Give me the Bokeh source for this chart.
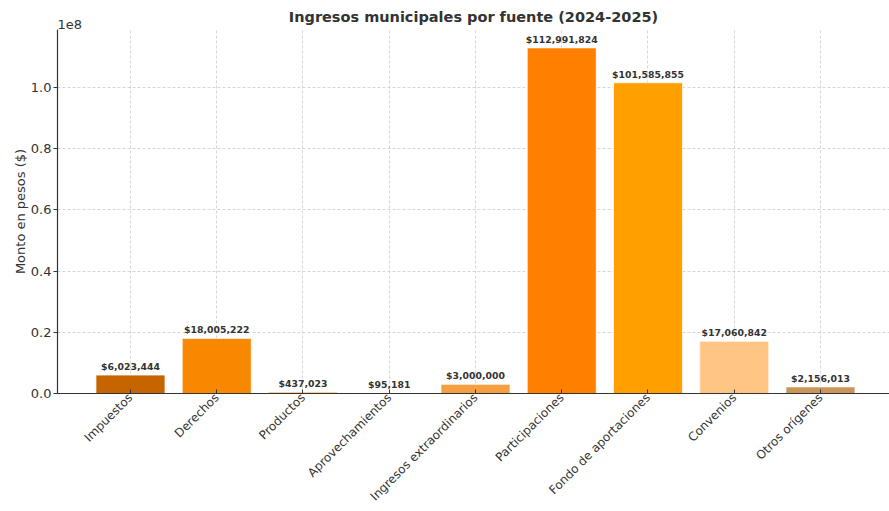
from bokeh.plotting import figure
from bokeh.models import FixedTicker, ColumnDataSource, Range1d, Title
from bokeh.embed import file_html
from bokeh.resources import INLINE
from bokeh.core.properties import value

categories = ["Impuestos", "Derechos", "Productos", "Aprovechamientos",
              "Ingresos extraordinarios", "Participaciones",
              "Fondo de aportaciones", "Convenios", "Otros orígenes"]
amounts = [6023444, 18005222, 437023, 95181, 3000000,
           112991824, 101585855, 17060842, 2156013]
colors = ["#c66400", "#f78800", "#f58a00", "#f29020", "#f4a040",
          "#ff8000", "#ff9f00", "#ffc585", "#c8955a"]
y_ticks = [0, 2e7, 4e7, 6e7, 8e7, 1e8]
y_tick_labels = ["0.0", "0.2", "0.4", "0.6", "0.8", "1.0"]
offset_text = "1e8"

FONT = "DejaVu Sans"
TXT = "#333333"

xs = list(range(len(categories)))
src = ColumnDataSource(dict(
    x=xs, top=amounts, color=colors,
    label=[f"${v:,.0f}" for v in amounts],
))

p = figure(width=889, height=511, output_backend="svg", toolbar_location=None,
           x_range=Range1d(-0.846, 8.80), y_range=Range1d(0, 1.19e8),
           min_border_left=57, min_border_right=0, min_border_top=29,
           min_border_bottom=118)

p.title.text = "Ingresos municipales por fuente (2024-2025)"
p.title.align = "center"
p.title.text_font = FONT
p.title.text_font_size = "14.5px"
p.title.text_font_style = "bold"
p.title.text_color = TXT
p.title.offset = 0
p.title.standoff = -14

p.add_layout(Title(text=offset_text, align="left", text_font=FONT,
                   text_font_size="13px", text_font_style="normal",
                   text_color=TXT, standoff=1, offset=0), "above")

p.vbar(x="x", top="top", width=0.8, source=src, fill_color="color",
       line_color="white", line_width=1, line_alpha=0.7)

p.text(x="x", y="top", text="label", source=src, text_align="center",
       text_baseline="bottom", y_offset=-3, text_font=value(FONT),
       text_font_size="9.3px", text_font_style="bold", text_color=TXT)

p.outline_line_color = None

for g in (p.xgrid, p.ygrid):
    g.grid_line_color = "#cccccc"
    g.grid_line_dash = "3 2"
    g.grid_line_width = 0.8

p.xaxis.ticker = FixedTicker(ticks=xs)
p.xaxis.major_label_overrides = {i: c for i, c in zip(xs, categories)}
p.xaxis.major_label_orientation = 0.785398
p.xaxis.major_label_text_font_size = "12px"
p.xaxis.major_label_standoff = 2
p.xaxis.major_tick_in = 4
p.xaxis.major_tick_out = 0
p.xaxis.minor_tick_line_color = None

p.yaxis.ticker = FixedTicker(ticks=y_ticks)
p.yaxis.major_label_overrides = {t: l for t, l in zip(y_ticks, y_tick_labels)}
p.yaxis.major_label_text_font_size = "13px"
p.yaxis.major_label_standoff = 2
p.yaxis.major_tick_in = 0
p.yaxis.major_tick_out = 4
p.yaxis.minor_tick_line_color = None
p.yaxis.axis_label = "Monto en pesos ($)"
p.yaxis.axis_label_text_font_style = "normal"
p.yaxis.axis_label_text_font_size = "13px"
p.yaxis.axis_label_text_font = FONT
p.yaxis.axis_label_text_color = TXT
p.yaxis.axis_label_standoff = 0

for ax in (p.xaxis, p.yaxis):
    ax.major_label_text_font = FONT
    ax.major_label_text_color = TXT
    ax.axis_line_color = TXT
    ax.axis_line_width = 1.2
    ax.major_tick_line_color = TXT

open("out.html", "w").write(file_html(p, INLINE))
